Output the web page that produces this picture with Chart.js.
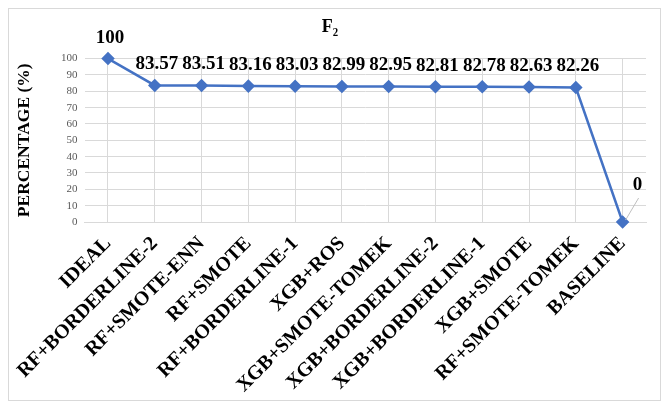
<!DOCTYPE html>
<html>
<head>
<meta charset="utf-8">
<script src="https://cdn.jsdelivr.net/npm/chart.js@4.4.1/dist/chart.umd.min.js"></script>
<style>
  html, body { margin: 0; padding: 0; background: #fff; }
  #wrap { position: relative; width: 663px; height: 404px; }
  #frame { position: absolute; left: 8px; top: 8px; width: 651px; height: 391px; border: 1px solid #d9d9d9; }
  #chart { position: absolute; left: 0; top: 0; }
</style>
</head>
<body>
<div id="wrap">
  <div id="frame"></div>
  <canvas id="chart" width="663" height="404"></canvas>
</div>
<script>
// categorieen en waarden (F2 in %)
const methods = [
    "IDEAL", "RF+BORDERLINE-2", "RF+SMOTE-ENN", "RF+SMOTE", "RF+BORDERLINE-1",
    "XGB+ROS", "XGB+SMOTE-TOMEK", "XGB+BORDERLINE-2", "XGB+BORDERLINE-1",
    "XGB+SMOTE", "RF+SMOTE-TOMEK", "BASELINE"
];
const f2Values = [100, 83.57, 83.51, 83.16, 83.03, 82.99, 82.95, 82.81, 82.78, 82.63, 82.26, 0];
const valueLabels = ["100", "83.57", "83.51", "83.16", "83.03", "82.99", "82.95", "82.81", "82.78", "82.63", "82.26", "0"];

const SERIF = "'Liberation Serif', 'Times New Roman', serif";
const BLUE = "#4472C4";
const GRID = "#d9d9d9";

// waardelabels boven de punten
const valueLabelPlugin = {
    id: 'valueLabels',
    afterDatasetsDraw(chart) {
        const { ctx } = chart;
        const points = chart.getDatasetMeta(0).data;
        ctx.save();
        ctx.font = `bold 19px ${SERIF}`;
        ctx.fillStyle = "#000";
        ctx.textAlign = "center";
        ctx.textBaseline = "middle";
        points.forEach((pt, i) => {
            if (f2Values[i] === 0) {
                // label met verbindingslijn (zoals in Excel)
                const lx = pt.x + 15, ly = pt.y - 37;
                ctx.strokeStyle = "#bfbfbf";
                ctx.lineWidth = 1;
                ctx.beginPath();
                ctx.moveTo(lx + 1, ly + 13);
                ctx.lineTo(pt.x + 3, pt.y - 2);
                ctx.stroke();
                ctx.fillText(valueLabels[i], lx, ly);
            } else {
                ctx.fillText(valueLabels[i], pt.x + 2, pt.y - 21);
            }
        });
        ctx.restore();
    }
};

new Chart(document.getElementById("chart").getContext("2d"), {
    type: "line",
    data: {
        labels: methods,
        datasets: [{
            data: f2Values,
            borderColor: BLUE,
            backgroundColor: BLUE,
            borderWidth: 2.5,
            pointStyle: "rectRot",
            pointRadius: 5,
            pointBackgroundColor: BLUE,
            pointBorderColor: BLUE,
            tension: 0,
            clip: false
        }]
    },
    options: {
        responsive: false,
        animation: false,
        layout: { padding: { left: 14, right: 17, top: 0, bottom: 0 } },
        plugins: {
            legend: { display: false },
            tooltip: { enabled: false },
            title: {
                display: true,
                text: "F\u2082",
                color: "#000",
                font: { family: SERIF, size: 18, weight: "bold" },
                padding: { top: 17, bottom: 20 }
            }
        },
        scales: {
            x: {
                offset: true,
                grid: { color: GRID, drawTicks: false, offset: false },
                border: { color: GRID },
                ticks: {
                    color: "#000",
                    font: { family: SERIF, size: 20, weight: "bold" },
                    minRotation: 45,
                    maxRotation: 45,
                    autoSkip: false,
                    padding: 10
                },
                afterFit(scale) { scale.height = 182; }
            },
            y: {
                min: 0,
                max: 100,
                grid: { color: GRID, drawTicks: false },
                border: { display: false },
                ticks: {
                    stepSize: 10,
                    color: "#595959",
                    font: { family: SERIF, size: 11 },
                    padding: 7
                },
                title: {
                    display: true,
                    text: "PERCENTAGE (%)",
                    color: "#000",
                    font: { family: SERIF, size: 17.5, weight: "bold" },
                    padding: { top: 0, bottom: 0 }
                },
                afterFit(scale) { scale.width = 70.6; }
            }
        }
    },
    plugins: [valueLabelPlugin]
});
</script>
</body>
</html>
